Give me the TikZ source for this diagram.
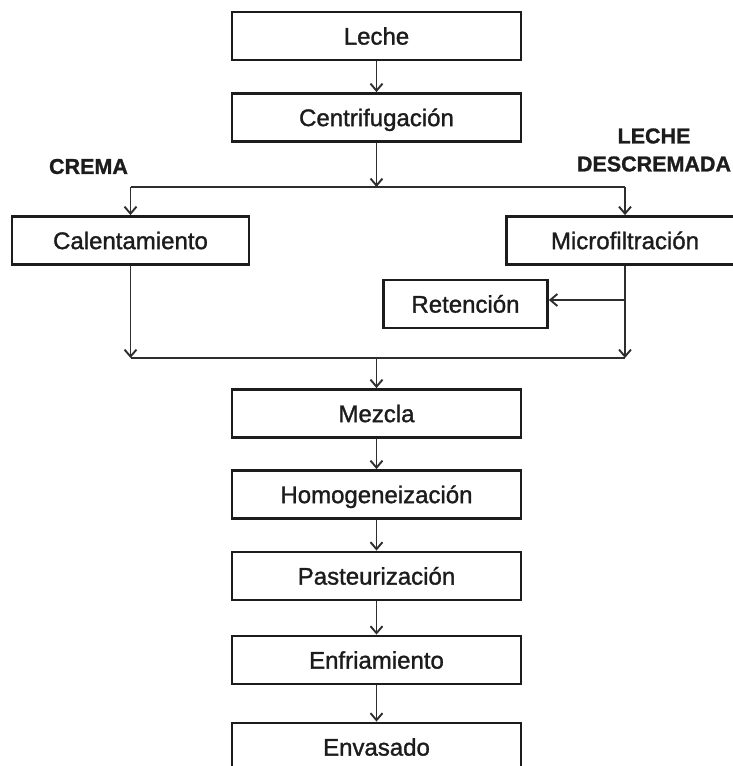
\documentclass[tikz,border=0pt]{standalone}
\usepackage{fontspec}
\setmainfont{Liberation Sans}
\newfontface\boxfont{Liberation Sans}[FakeBold=1.3]
\newfontface\tagfont{Liberation Sans Bold}[FakeBold=1.2]
\usetikzlibrary{arrows.meta}
\definecolor{ink}{HTML}{1C1C1C}
\definecolor{wire}{HTML}{2E2E2E}
\begin{document}
\begin{tikzpicture}[x=1pt,y=-1pt,
  stepbox/.style={draw=ink, line width=2.8pt, inner sep=0pt,
    minimum height=48pt, text height=17.2pt, text depth=0pt,
    text=ink, font=\fontsize{24}{28}\boxfont},
  mainbox/.style={stepbox, minimum width=289pt},
  sidebox/.style={stepbox, minimum width=237pt},
  tag/.style={text=ink, inner sep=0pt, align=center,
    font=\fontsize{21.5}{28}\tagfont},
  flow/.style={draw=wire, line width=1.9pt},
  arr/.style={flow, -{Straight Barb[length=7pt,width=12pt,line width=1.9pt]}}]
\useasboundingbox (0,0) rectangle (733,766);

% main column
\node[mainbox] (leche) at (376.5,36) {Leche};
\node[mainbox] (cent)  at (376.5,117.5) {Centrifugación};
\node[mainbox] (mez)   at (376.5,413.5) {Mezcla};
\node[mainbox] (homo)  at (376.5,494.5) {Homogeneización};
\node[mainbox] (past)  at (376.5,576) {Pasteurización};
\node[mainbox] (enfr)  at (376.5,660) {Enfriamiento};
\node[mainbox] (env)   at (376.5,747) {Envasado};

% the two branches
\node[sidebox] (cal)   at (130.5,240.5) {Calentamiento};
\node[sidebox] (micro) at (625,240.5) {Microfiltración};
\node[stepbox, minimum width=164pt] (ret) at (465.5,304) {Retención};

\node[tag] (crema) at (88.5,166.5) {CREMA};
\node[tag] (desc)  at (654,150) {LECHE\\DESCREMADA};

% junction points
\coordinate (split)  at (376.5,187);
\coordinate (splitL) at (130.5,187);
\coordinate (splitR) at (625,187);
\coordinate (joinL)  at (130.5,358);
\coordinate (joinR)  at (625,358);
\coordinate (join)   at (376.5,358);
\coordinate (tap)    at (625,300);

% connectors
\draw[arr] (leche) -- (cent);
\draw[arr] (cent) -- (split);
\draw[flow] (splitL) -- (splitR);
\draw[arr] (splitL) -- (cal);
\draw[arr] (splitR) -- (micro);
\draw[arr] (cal) -- (joinL);
\draw[arr] (micro) -- (joinR);
\draw[arr] (tap) -- (tap -| ret.east);
\draw[flow] (joinL) -- (joinR);
\draw[arr] (join) -- (mez);
\draw[arr] (mez) -- (homo);
\draw[arr] (homo) -- (past);
\draw[arr] (past) -- (enfr);
\draw[arr] (enfr) -- (env);
\end{tikzpicture}
\end{document}
